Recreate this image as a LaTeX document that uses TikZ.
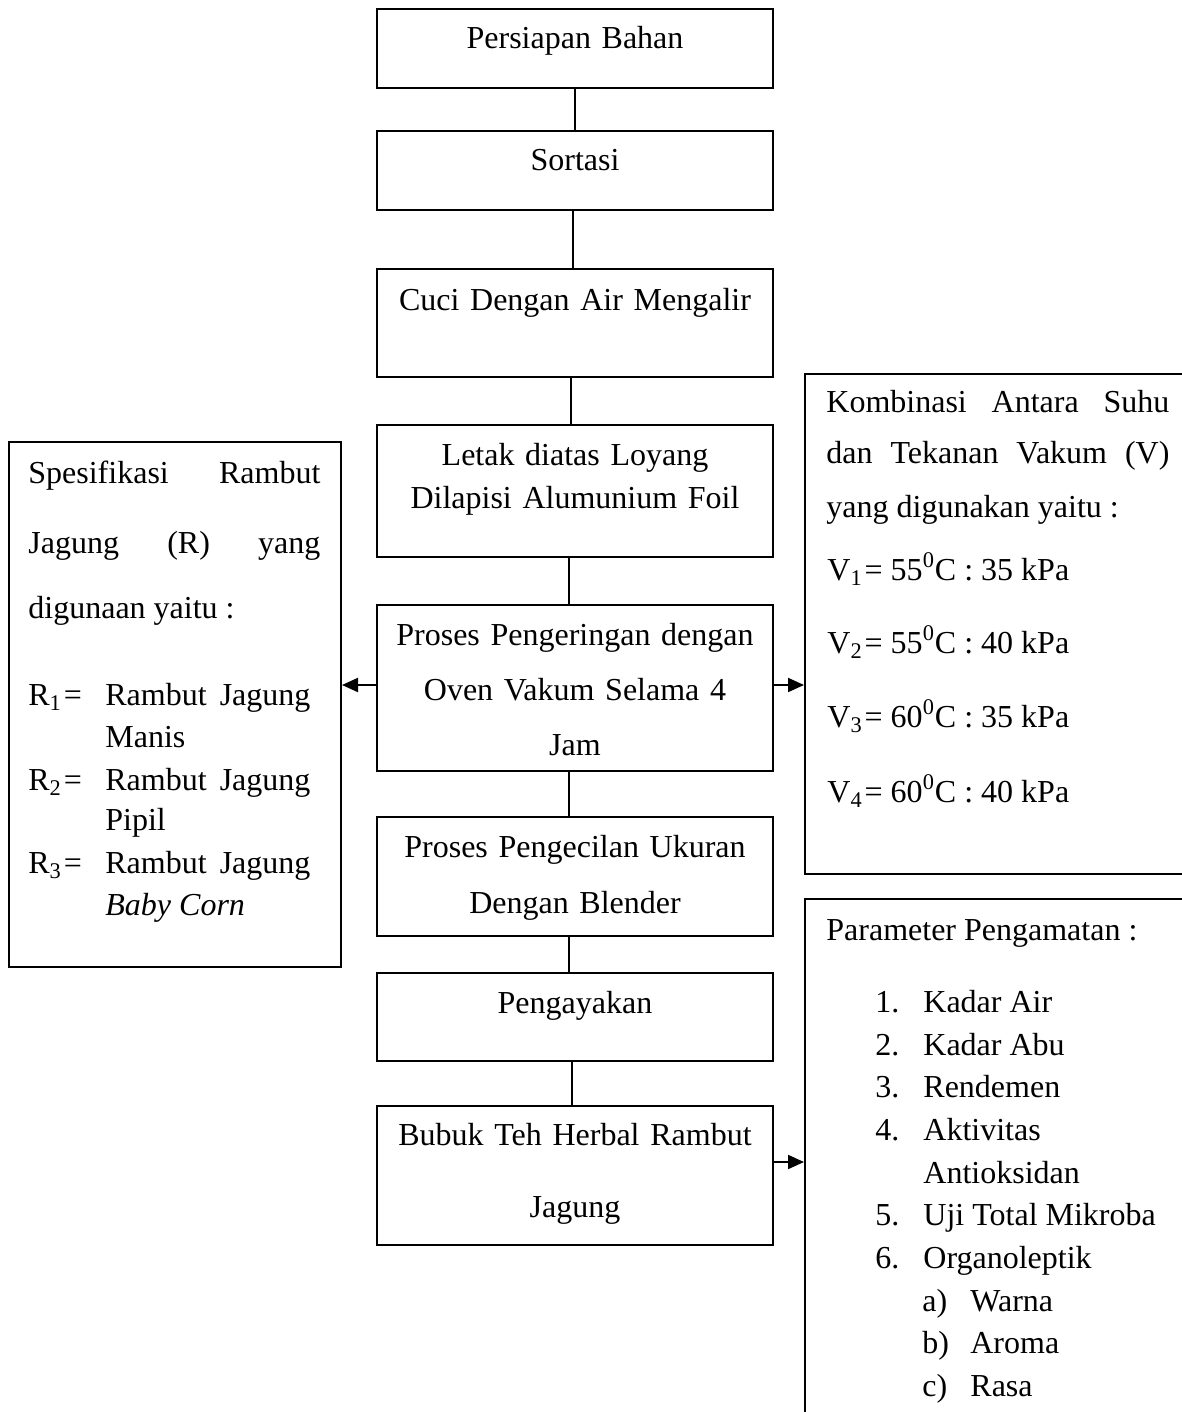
\documentclass[tikz,border=0pt]{standalone}
\usepackage{fontspec}
\setmainfont{Liberation Serif}
\usetikzlibrary{fit,arrows.meta}
\begin{document}
\begin{tikzpicture}[x=0.5pt,y=-0.5pt,
  font=\fontsize{16}{19}\selectfont,
  box/.style={draw,line width=1pt,inner sep=0pt},
  link/.style={line width=1pt},
  arr/.style={line width=1pt,-{Triangle[length=8pt,width=7pt]}},
  ctext/.style={anchor=base,inner sep=0pt,text width=190pt,align=center},
  ltext/.style={anchor=base west,inner sep=0pt}]
\clip (0,0) rectangle (1182,1412);
% main column boxes
\node[box,fit={(377,9)(773,88)}] (b1) {};
\node[box,fit={(377,131)(773,210)}] (b2) {};
\node[box,fit={(377,269)(773,377)}] (b3) {};
\node[box,fit={(377,425)(773,557)}] (b4) {};
\node[box,fit={(377,605)(773,771)}] (b5) {};
\node[box,fit={(377,817)(773,936)}] (b6) {};
\node[box,fit={(377,973)(773,1061)}] (b7) {};
\node[box,fit={(377,1106)(773,1245)}] (b8) {};
% side boxes
\node[box,fit={(9,442)(341,967)}] (spec) {};
\node[box,fit={(805,374)(1200,874)}] (komb) {};
\node[box,fit={(805,899)(1200,1440)}] (param) {};
% main column texts
\node[ctext] (t1) at (575,49) {Persiapan Bahan};
\node[ctext] (t2) at (575,171) {Sortasi};
\node[ctext] (t3) at (575,310) {Cuci Dengan Air Mengalir};
\node[ctext,font=\fontsize{16}{21.5}\selectfont] (t4) at (575,465) {Letak diatas Loyang\\Dilapisi Alumunium Foil};
\node[ctext,font=\fontsize{16}{27.5}\selectfont] (t5) at (575,645) {Proses Pengeringan dengan\\Oven Vakum Selama 4\\Jam};
\node[ctext,font=\fontsize{16}{28}\selectfont] (t6) at (575,857) {Proses Pengecilan Ukuran\\Dengan Blender};
\node[ctext] (t7) at (575,1013) {Pengayakan};
\node[ctext,font=\fontsize{16}{36}\selectfont] (t8) at (575,1145) {Bubuk Teh Herbal Rambut\\Jagung};
% connectors
\draw[link] (b1.south) -- (b2.north);
\draw[link] ([xshift=-1pt]b2.south) -- ([xshift=-1pt]b3.north);
\draw[link] ([xshift=-2pt]b3.south) -- ([xshift=-2pt]b4.north);
\draw[link] ([xshift=-3pt]b4.south) -- ([xshift=-3pt]b5.north);
\draw[link] ([xshift=-3pt]b5.south) -- ([xshift=-3pt]b6.north);
\draw[link] ([xshift=-3pt]b6.south) -- ([xshift=-3pt]b7.north);
\draw[link] ([xshift=-1.5pt]b7.south) -- ([xshift=-1.5pt]b8.north);
\coordinate (a5l) at ([yshift=1.5pt]b5.west);
\coordinate (a5r) at ([yshift=1.5pt]b5.east);
\coordinate (a8) at ([yshift=6.75pt]b8.east);
\draw[arr] (a5l) -- (a5l -| spec.east);
\draw[arr] (a5r) -- (a5r -| komb.west);
\draw[arr] (a8) -- (a8 -| param.west);
% left box text
\node[ltext] (s1) at (28,483) {\hbox to 146pt{Spesifikasi\hfill Rambut}};
\node[ltext] (s2) at (28,553) {\hbox to 146pt{Jagung\hfill (R)\hfill yang}};
\node[ltext] (s3) at (28,618) {digunaan yaitu :};
\node[ltext] (r1) at (28,705) {\makebox[38.5pt][l]{R\textsubscript{1}\kern1pt=}\hbox to 102.5pt{Rambut\hfill Jagung}};
\node[ltext] (r1b) at (105,747) {Manis};
\node[ltext] (r2) at (28,790) {\makebox[38.5pt][l]{R\textsubscript{2}\kern1pt=}\hbox to 102.5pt{Rambut\hfill Jagung}};
\node[ltext] (r2b) at (105,830) {Pipil};
\node[ltext] (r3) at (28,873) {\makebox[38.5pt][l]{R\textsubscript{3}\kern1pt=}\hbox to 102.5pt{Rambut\hfill Jagung}};
\node[ltext] (r3b) at (105,915) {\itshape Baby Corn};
% right top box text
\node[ltext] (k1) at (826,412) {\hbox to 171.5pt{Kombinasi\hfill Antara\hfill Suhu}};
\node[ltext] (k2) at (826,463) {\hbox to 171.5pt{dan\hfill Tekanan\hfill Vakum\hfill (V)}};
\node[ltext] (k3) at (826,517) {yang digunakan yaitu :};
\node[ltext] (v1) at (827,580) {V\textsubscript{1}\kern1pt= 55\textsuperscript{0}C : 35 kPa};
\node[ltext] (v2) at (827,653) {V\textsubscript{2}\kern1pt= 55\textsuperscript{0}C : 40 kPa};
\node[ltext] (v3) at (827,727) {V\textsubscript{3}\kern1pt= 60\textsuperscript{0}C : 35 kPa};
\node[ltext] (v4) at (827,802) {V\textsubscript{4}\kern1pt= 60\textsuperscript{0}C : 40 kPa};
% right bottom box text
\node[ltext] (p0) at (826,940) {Parameter Pengamatan :};
\node[ltext] (p1) at (875,1012) {\makebox[24pt][l]{1.}Kadar Air};
\node[ltext] (p2) at (875,1055) {\makebox[24pt][l]{2.}Kadar Abu};
\node[ltext] (p3) at (875,1097) {\makebox[24pt][l]{3.}Rendemen};
\node[ltext] (p4) at (875,1140) {\makebox[24pt][l]{4.}Aktivitas};
\node[ltext] (p4b) at (923,1183) {Antioksidan};
\node[ltext] (p5) at (875,1225) {\makebox[24pt][l]{5.}Uji Total Mikroba};
\node[ltext] (p6) at (875,1268) {\makebox[24pt][l]{6.}Organoleptik};
\node[ltext] (pa) at (922,1311) {\makebox[24pt][l]{a)}Warna};
\node[ltext] (pb) at (922,1353) {\makebox[24pt][l]{b)}Aroma};
\node[ltext] (pc) at (922,1396) {\makebox[24pt][l]{c)}Rasa};
\end{tikzpicture}
\end{document}
